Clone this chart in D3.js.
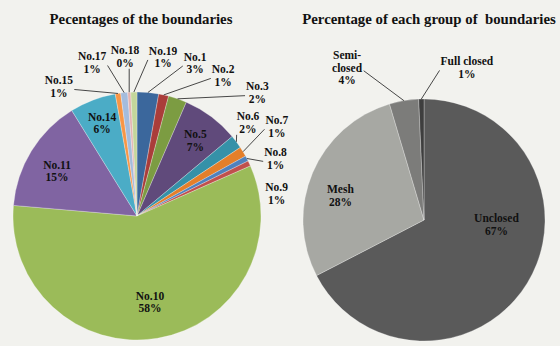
<!DOCTYPE html>
<html><head><meta charset="utf-8">
<script src="https://cdn.jsdelivr.net/npm/d3@7"></script>
<style>html,body{margin:0;padding:0;background:#f2f2ee;} svg{display:block;}</style>
</head><body>
<svg id="chart" width="560" height="346"></svg>
<script>
// ---- data ----
const boundaryNames  = ["No.1","No.2","No.3","No.5","No.6","No.7","No.8","No.9","No.10","No.11","No.14","No.15","No.17","No.18","No.19"];
const boundaryValues = [2.8, 1.3, 2.4, 7.4, 1.75, 1.3, 0.7, 0.7, 57.9, 14.8, 6.0, 0.7, 0.9, 0.4, 0.8];
const groupNames  = ["Unclosed","Mesh","Semi-closed","Full closed"];
const groupValues = [67.4, 28.0, 3.9, 0.7];
const chartTitles = ["Pecentages of the boundaries","Percentage of each group of  boundaries"];

// ---- styles / layout ----
const boundaryColors = ["#3b679c","#aa3d3a","#7c9c42","#604a7b","#3591a8","#e47f2a","#4f81bd","#c0504d","#9bbb59","#8064a2","#4bacc6","#f79646","#a4bcdc","#e3b3b2","#c3d69b"];
const groupColors = ["#5a5a5a","#a7a8a3","#7c7c7a","#3e3e3e"];
// label placement: polar angle (deg, clockwise from 12 o'clock), distance as fraction of radius, leader line
const boundaryLabelPos = {
  "No.1":[20.8,1.32,true],"No.2":[31.5,1.33,true],"No.3":[44.3,1.39,true],"No.5":[37.7,0.77,false],
  "No.6":[49.9,1.17,true],"No.7":[57.3,1.34,true],"No.8":[67.4,1.21,true],"No.9":[80.9,1.14,false],
  "No.10":[171.4,0.70,false],"No.11":[299.4,0.74,false],"No.14":[339.4,0.80,false],"No.15":[328.9,1.22,true],
  "No.17":[343.7,1.29,true],"No.18":[355.7,1.29,true],"No.19":[9.3,1.30,true]
};
const groupLabelPos = {
  "Unclosed":[93.5,0.60,false],"Mesh":[286.3,0.72,false],"Semi-closed":[333.2,1.41,true],"Full closed":[15.7,1.31,true]
};
const groupLabelLines = {"Semi-closed":["Semi-","closed"]};

const svg = d3.select("#chart");
const FONT = "'Liberation Serif','Times New Roman',serif";

function drawPie(opts){
  const {names, values, colors, cx, cy, r, title, titleX, labelPos, lines} = opts;
  const total = d3.sum(values);
  const data = names.map((n,i)=>({name:n, value:values[i], color:colors[i]}));
  const pie = d3.pie().sort(null).value(d=>d.value).startAngle(0).endAngle(2*Math.PI);
  const arc = d3.arc().innerRadius(0).outerRadius(r);
  const arcs = pie(data);

  svg.append("text").attr("x", titleX).attr("y", 24).attr("text-anchor","middle")
    .attr("font-family", FONT).attr("font-weight","bold").attr("font-size", 14.8)
    .attr("fill","#111").attr("xml:space","preserve").style("white-space","pre").text(title);

  const g = svg.append("g").attr("transform", `translate(${cx},${cy})`);
  g.selectAll("path.slice").data(arcs).join("path").attr("class","slice")
    .attr("d", arc).attr("fill", d=>d.data.color)
    .attr("stroke","#ffffff").attr("stroke-opacity",0.45).attr("stroke-width",0.6);

  const leaderG = g.append("g");
  const labelG = g.append("g");
  arcs.forEach(a=>{
    const p = labelPos[a.data.name];
    const ang = p[0]*Math.PI/180, dist = p[1]*r;
    const lx = Math.sin(ang)*dist, ly = -Math.cos(ang)*dist;
    const txtLines = (lines && lines[a.data.name]) ? lines[a.data.name].slice() : [a.data.name];
    txtLines.push(Math.round(a.data.value/total*100) + "%");
    const lh = 12.5;
    const t = labelG.append("text").attr("text-anchor","middle")
      .attr("font-family", FONT).attr("font-weight","bold").attr("font-size", 11.5).attr("fill","#111");
    txtLines.forEach((s,i)=>{
      t.append("tspan").attr("x", lx).attr("y", ly + (i - (txtLines.length-1)/2)*lh)
        .attr("dy","0.35em").text(s);
    });
    if (p[2]) {
      const bb = t.node().getBBox();
      const mid = (a.startAngle + a.endAngle)/2;
      const sx = Math.sin(mid)*r, sy = -Math.cos(mid)*r;
      let ex, ey;
      if (sx < bb.x - 6) { ex = bb.x - 1; ey = bb.y + bb.height/2 + 3; }
      else if (sx > bb.x + bb.width + 6) { ex = bb.x + bb.width + 1; ey = bb.y + bb.height/2 + 3; }
      else { ex = Math.max(bb.x, Math.min(sx, bb.x+bb.width)); ey = sy > bb.y ? bb.y + bb.height : bb.y; }
      leaderG.append("line").attr("x1", ex).attr("y1", ey).attr("x2", sx).attr("y2", sy)
        .attr("stroke","#333333").attr("stroke-width",0.9);
    }
  });
}

drawPie({names:boundaryNames, values:boundaryValues, colors:boundaryColors, cx:137, cy:216, r:124,
  title:chartTitles[0], titleX:141, labelPos:boundaryLabelPos});
drawPie({names:groupNames, values:groupValues, colors:groupColors, cx:424, cy:220, r:121,
  title:chartTitles[1], titleX:429, labelPos:groupLabelPos, lines:groupLabelLines});
</script>
</body></html>
